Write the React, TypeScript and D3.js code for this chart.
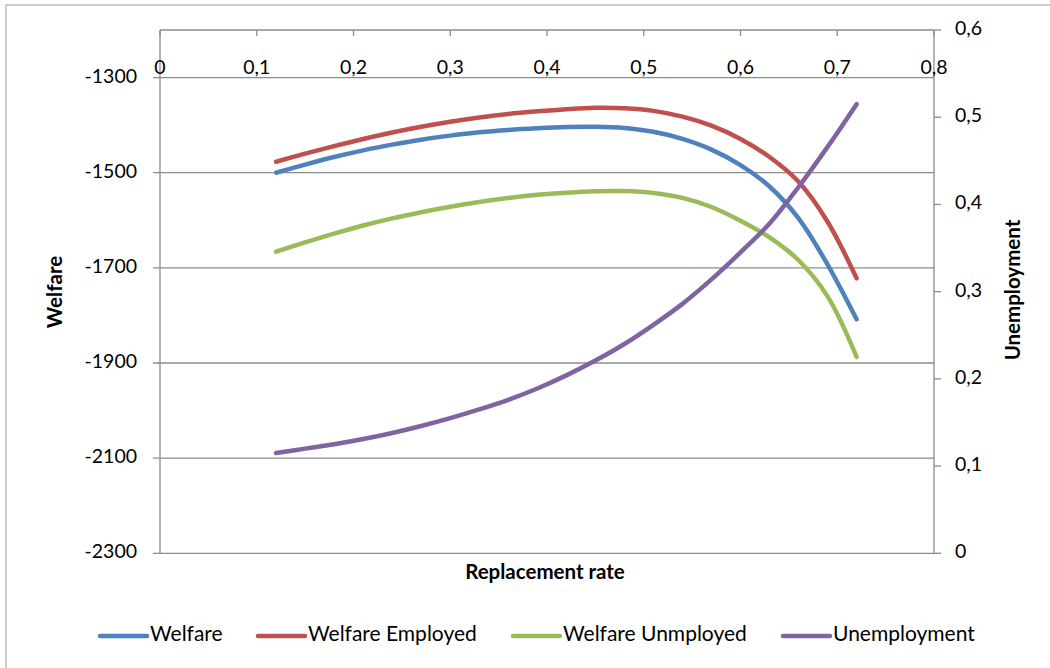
import React from "react";
import * as d3 from "d3";

// Replacement rate (x) sampled every 0.03
const replacementRate = [
  0.12, 0.15, 0.18, 0.21, 0.24, 0.27, 0.3, 0.33, 0.36, 0.39, 0.42,
  0.45, 0.48, 0.51, 0.54, 0.57, 0.6, 0.63, 0.66, 0.69, 0.72,
];

const welfare = [
  -1500, -1483, -1467, -1453, -1441, -1430.5, -1422, -1415, -1410, -1406.5, -1404,
  -1403.5, -1406, -1414, -1429, -1451.5, -1484, -1529, -1596, -1693, -1808,
];

const welfareEmployed = [
  -1477, -1460, -1444, -1429, -1415.5, -1403.5, -1393, -1384, -1376.5, -1371, -1366.5,
  -1363.5, -1364.5, -1370, -1382, -1401, -1429, -1467, -1519, -1603, -1722,
];

const welfareUnemployed = [
  -1666, -1646.5, -1628, -1611, -1596, -1583, -1571.5, -1561.5, -1553, -1546.5, -1542,
  -1539, -1538.5, -1542.5, -1553, -1572, -1601, -1636, -1684, -1760, -1887,
];

const unemployment = [
  0.115, 0.12, 0.125, 0.131, 0.138, 0.146, 0.155, 0.165, 0.176, 0.189, 0.204,
  0.221, 0.24, 0.262, 0.286, 0.314, 0.345, 0.378, 0.42, 0.466, 0.515,
];

const xTicks = [0, 0.1, 0.2, 0.3, 0.4, 0.5, 0.6, 0.7, 0.8];
const leftTicks = [-2300, -2100, -1900, -1700, -1500, -1300];
const rightTicks = [0, 0.1, 0.2, 0.3, 0.4, 0.5, 0.6];

const seriesNames = ["Welfare", "Welfare Employed", "Welfare Unmployed", "Unemployment"];
const seriesColors = ["#4F81BD", "#C0504D", "#9BBB59", "#8064A2"];

const W = 1050;
const H = 668;
const plot = { left: 160, right: 934, top: 30, bottom: 553.3 };

const FONT = "Lato, 'Open Sans', sans-serif";
const gridColor = "#8C8C8C";

const commaFmt = (v: number) => (v === 0 ? "0" : d3.format(".1f")(v).replace(".", ","));

export default function App() {
  const x = d3.scaleLinear().domain([0, 0.8]).range([plot.left, plot.right]);
  const yL = d3.scaleLinear().domain([-2300, -1200]).range([plot.bottom, plot.top]);
  const yR = d3.scaleLinear().domain([0, 0.6]).range([plot.bottom, plot.top]);

  const lineL = d3
    .line<[number, number]>()
    .x((d) => x(d[0]))
    .y((d) => yL(d[1]))
    .curve(d3.curveCatmullRom.alpha(0.5));
  const lineR = d3
    .line<[number, number]>()
    .x((d) => x(d[0]))
    .y((d) => yR(d[1]))
    .curve(d3.curveCatmullRom.alpha(0.5));

  const zip = (ys: number[]) => replacementRate.map((r, i) => [r, ys[i]] as [number, number]);

  const paths = [
    { d: lineL(zip(welfare)), color: seriesColors[0] },
    { d: lineL(zip(welfareEmployed)), color: seriesColors[1] },
    { d: lineL(zip(welfareUnemployed)), color: seriesColors[2] },
    { d: lineR(zip(unemployment)), color: seriesColors[3] },
  ];

  const legendItems = [
    { line: [100, 147], text: 150 },
    { line: [258, 305], text: 308 },
    { line: [513, 560], text: 563 },
    { line: [783, 830], text: 833 },
  ];
  const legendY = 636;

  return (
    <svg
      width={W}
      height={H}
      style={{ position: "absolute", left: 0, top: 0, background: "#fff" }}
      fontFamily={FONT}
    >
      <rect x={0} y={0} width={W} height={H} fill="#fff" />
      {/* chart frame */}
      <rect x={6} y={5} width={W + 20} height={H + 20} fill="none" stroke="#BFBFBF" strokeWidth={1.5} />

      {/* horizontal gridlines (left axis) */}
      {leftTicks.map((t) => (
        <line
          key={"g" + t}
          x1={plot.left - 7}
          x2={plot.right}
          y1={yL(t)}
          y2={yL(t)}
          stroke={gridColor}
          strokeWidth={1.3}
        />
      ))}

      {/* plot frame / axes */}
      <line x1={plot.left} x2={plot.right} y1={plot.top} y2={plot.top} stroke={gridColor} strokeWidth={1.3} />
      <line x1={plot.left} x2={plot.left} y1={plot.top} y2={plot.bottom} stroke={gridColor} strokeWidth={1.3} />
      <line x1={plot.right} x2={plot.right} y1={plot.top} y2={plot.bottom} stroke={gridColor} strokeWidth={1.3} />

      {/* x-axis ticks along the top */}
      {xTicks.map((t) => (
        <g key={"x" + t}>
          <line x1={x(t)} x2={x(t)} y1={plot.top} y2={plot.top + 6} stroke={gridColor} strokeWidth={1.3} />
          <text x={x(t)} y={69} textAnchor="middle" dominantBaseline="middle" fontSize={19.5} fill="#000">
            {commaFmt(t)}
          </text>
        </g>
      ))}

      {/* left axis labels */}
      {leftTicks.map((t) => (
        <text
          key={"l" + t}
          x={137}
          y={yL(t)}
          textAnchor="end"
          dominantBaseline="middle"
          fontSize={19.5}
          fill="#000"
        >
          {String(t)}
        </text>
      ))}

      {/* right axis ticks and labels */}
      {rightTicks.map((t) => (
        <g key={"r" + t}>
          <line x1={plot.right} x2={plot.right + 7} y1={yR(t)} y2={yR(t)} stroke={gridColor} strokeWidth={1.3} />
          <text x={955} y={yR(t)} dominantBaseline="middle" fontSize={19.5} fill="#000">
            {commaFmt(t)}
          </text>
        </g>
      ))}

      {/* series */}
      {paths.map((p, i) => (
        <path
          key={"s" + i}
          d={p.d ?? ""}
          fill="none"
          stroke={p.color}
          strokeWidth={4.5}
          strokeLinecap="round"
          strokeLinejoin="round"
        />
      ))}

      {/* axis titles */}
      <text x={545} y={574} textAnchor="middle" dominantBaseline="middle" fontSize={20.5} fontWeight="bold" fill="#000">
        Replacement rate
      </text>
      <text
        transform={`translate(57,292) rotate(-90)`}
        textAnchor="middle"
        dominantBaseline="middle"
        fontSize={20.5}
        fontWeight="bold"
        fill="#000"
      >
        Welfare
      </text>
      <text
        transform={`translate(1015,290) rotate(-90)`}
        textAnchor="middle"
        dominantBaseline="middle"
        fontSize={20.5}
        fontWeight="bold"
        fill="#000"
      >
        Unemployment
      </text>

      {/* legend */}
      {legendItems.map((it, i) => (
        <g key={"lg" + i}>
          <line
            x1={it.line[0]}
            x2={it.line[1]}
            y1={legendY}
            y2={legendY}
            stroke={seriesColors[i]}
            strokeWidth={4.5}
            strokeLinecap="round"
          />
          <text x={it.text} y={legendY} dominantBaseline="middle" fontSize={21} fill="#000">
            {seriesNames[i]}
          </text>
        </g>
      ))}
    </svg>
  );
}
